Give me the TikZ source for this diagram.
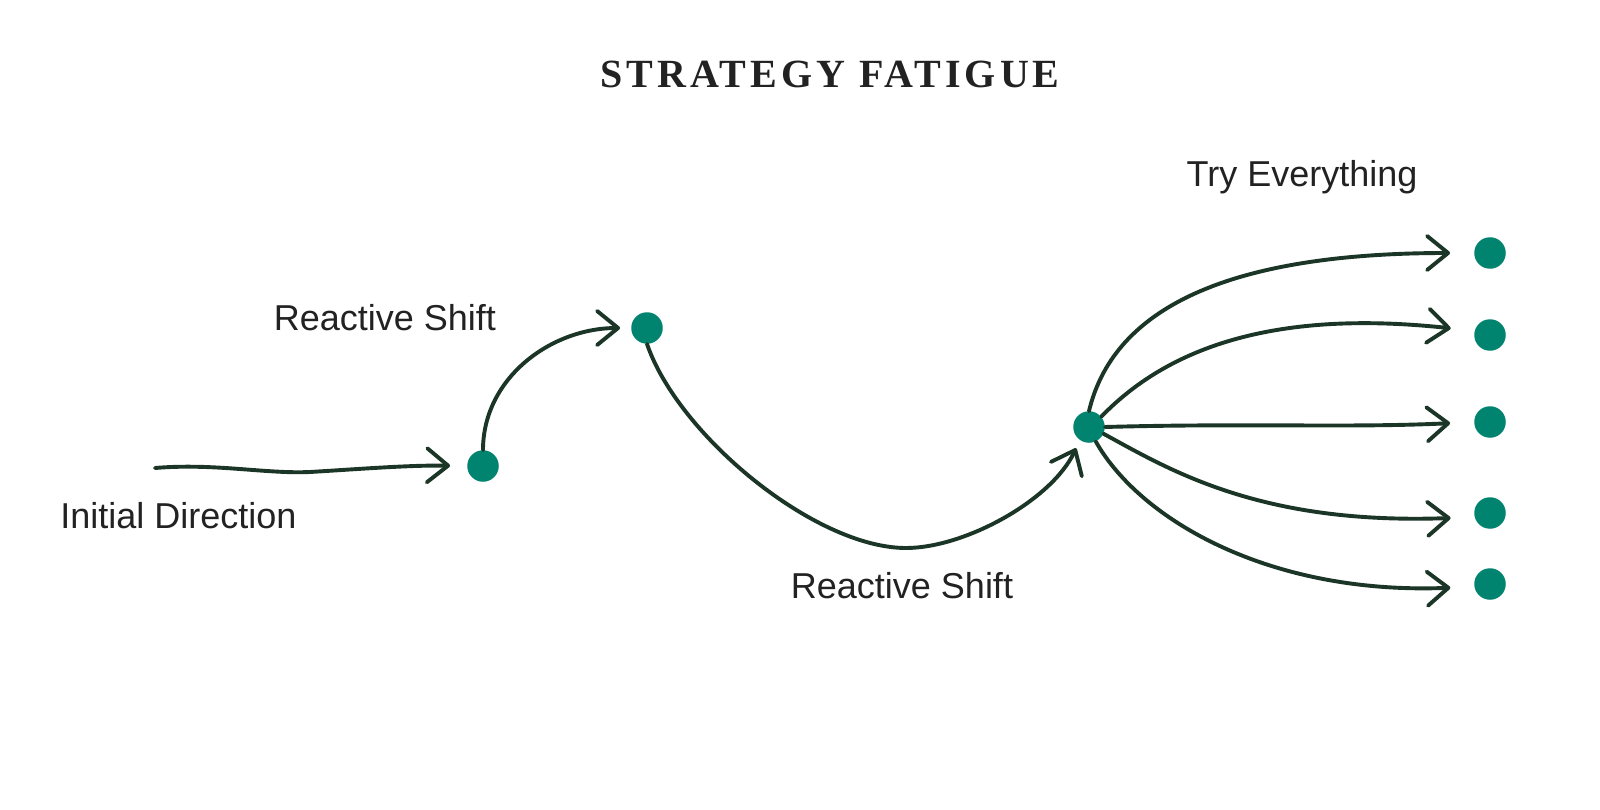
\documentclass[tikz,border=0pt]{standalone}
\usepackage{fontspec}
\setmainfont{Liberation Sans}
\newfontfamily\titlefont{Liberation Serif}[LetterSpace=10]
\usetikzlibrary{arrows.meta}
\definecolor{linec}{HTML}{1B3527}
\definecolor{dotc}{HTML}{00846F}
\definecolor{textc}{HTML}{222222}
\tikzset{
  dot/.style={circle, fill=dotc, draw=none, minimum size=31.5pt, inner sep=0pt},
  conn/.style={draw=linec, line width=3.9pt, line cap=round, line join=round},
  arr/.style={conn, -{Straight Barb[length=21pt,width=34pt,round]}},
  lbl/.style={text=textc, inner sep=0pt, anchor=base, font=\fontsize{36}{40}\selectfont},
  ttl/.style={text=textc, inner sep=0pt, anchor=base, font=\titlefont\bfseries\fontsize{40}{44}\selectfont}
}
\begin{document}
\begin{tikzpicture}[x=1pt,y=-1pt]
\useasboundingbox[fill=white] (0,0) rectangle (1600,810);

% title and labels
\node[ttl] (title) at (830,88) {STRATEGY FATIGUE};
\node[lbl] (linit) at (178.5,528) {Initial Direction};
\node[lbl] (lrs1) at (385,330) {Reactive Shift};
\node[lbl] (lrs2) at (902,598) {Reactive Shift};
\node[lbl] (ltry) at (1302,187) {Try Everything};

% dots
\node[dot] (d1) at (483,466) {};
\node[dot] (d2) at (647,328) {};
\node[dot] (d3) at (1089,427) {};
\node[dot] (r1) at (1490,253) {};
\node[dot] (r2) at (1490,335) {};
\node[dot] (r3) at (1490,422) {};
\node[dot] (r4) at (1490,513) {};
\node[dot] (r5) at (1490,584) {};

\coordinate (s0) at (155,468);

% initial direction
\draw[arr, shorten >=17pt] (s0) .. controls (215,463) and (265,474) .. (310,472)
  .. controls (360,469) and (410,465) .. (d1.west);

% first reactive shift
\draw[arr, shorten >=11pt] (d1.north) .. controls +(0,-72) and +(-80,0) .. (d2.west);

% second reactive shift
\draw[arr, shorten >=9pt] (d2.south) .. controls (678,435) and (815,548) .. (906,548)
  .. controls (965,548) and (1052,500) .. (d3.235);

% try everything fan
\draw[arr, shorten >=24pt] (d3.north) .. controls (1112,315) and (1215,253) .. (r1.west);
\draw[arr, shorten >=24pt] (d3.40) .. controls (1180,335) and (1300,312) .. (r2.165);
\draw[arr, shorten >=24pt] (d3.east) .. controls (1250,423) and (1350,428) .. (r3.west);
\draw[arr, shorten >=24pt] (d3.-25) .. controls (1170,470) and (1260,525) .. (r4.195);
\draw[arr, shorten >=24pt] (d3.-65) .. controls (1140,520) and (1270,595) .. (r5.190);
\end{tikzpicture}
\end{document}
